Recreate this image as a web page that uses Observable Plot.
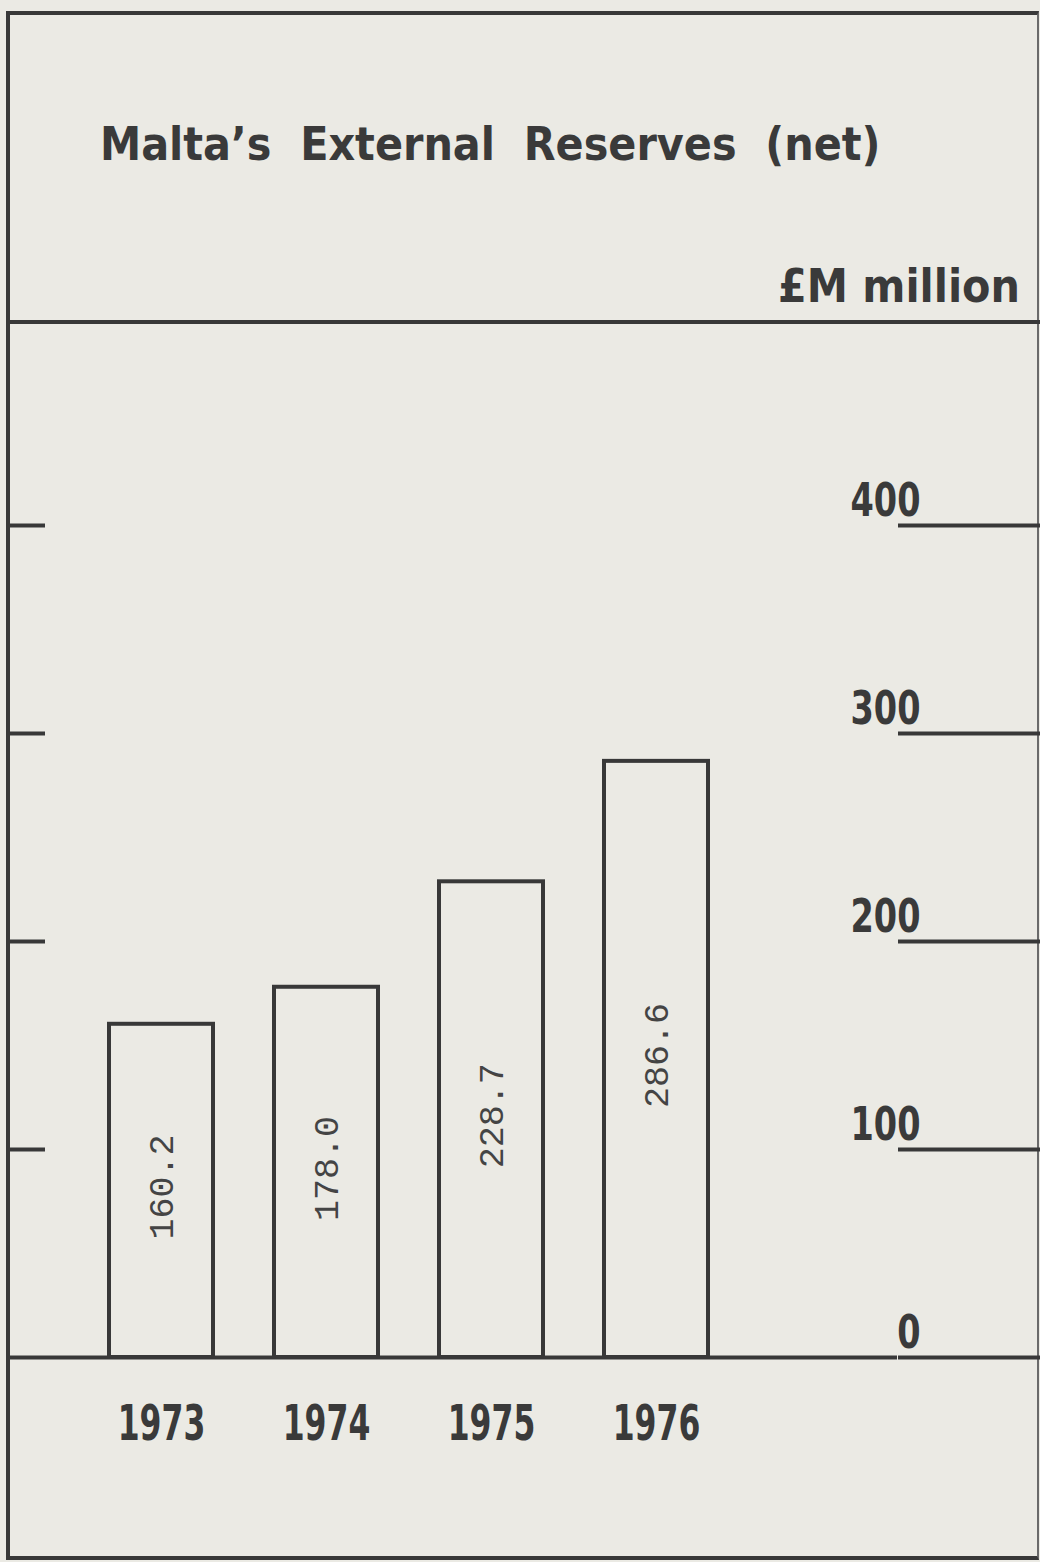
<!DOCTYPE html>
<html>
<head>
<meta charset="utf-8">
<script src="https://cdn.jsdelivr.net/npm/d3@7"></script>
<script src="https://cdn.jsdelivr.net/npm/@observablehq/plot@0.6"></script>
<style>
  html, body { margin: 0; padding: 0; background: #ebeae4; }
  #page { position: relative; width: 1040px; height: 1562px; background: #ebeae4; overflow: hidden; }
  #page svg { position: absolute; left: 0; top: 0; }
  .frame { position: absolute; left: 6px; top: 11px; width: 1033px; height: 1549px; box-sizing: border-box;
           border-left: 4px solid #383838; border-top: 4px solid #383838; border-bottom: 4px solid #383838; border-right: 2px solid #6a6a6a; }
  .hline { position: absolute; left: 6px; top: 320px; width: 1034px; height: 4px; background: #383838; }
  .bold { position: absolute; font-family: "Liberation Sans Narrow", "DejaVu Sans Condensed", "Liberation Sans", sans-serif;
          font-weight: bold; color: #3a3a3a; font-size: 46px; line-height: 46px; white-space: pre; }
  #title { left: 100px; top: 121px; }
  #unit { right: 20px; top: 263px; }
</style>
</head>
<body>
<div id="page">
  <div class="frame"></div>
  <div class="hline"></div>
  <div class="bold" id="title">Malta’s  External  Reserves  (net)</div>
  <div class="bold" id="unit">£M million</div>
</div>
<script>
const years = ["1973", "1974", "1975", "1976"];
const reserves = [160.2, 178.0, 228.7, 286.6];
const yTicks = [0, 100, 200, 300, 400];

const data = years.map((year, i) => ({year, value: reserves[i]}));

const ink = "#383838";
const boldFont = '"Liberation Sans Narrow", "DejaVu Sans Condensed", "Liberation Sans", sans-serif';

const chart = Plot.plot({
  width: 1040,
  height: 1562,
  marginTop: 525,
  marginBottom: 205,
  marginLeft: 45,
  marginRight: 143,
  style: {background: "transparent", color: ink},
  x: {domain: years, paddingInner: 0.3716, paddingOuter: 0.76, align: 0.2545, axis: null},
  y: {domain: [0, 400], axis: null},
  marks: [
    Plot.barY(data, {x: "year", y: "value", fill: "none", stroke: ink, strokeWidth: 4}),
    Plot.text(data, {
      x: "year", y: d => d.value / 2, text: d => d.value.toFixed(1), rotate: -90,
      fontFamily: '"Liberation Mono", "DejaVu Sans Mono", monospace', fontSize: 35, fill: "#444", dy: -4
    }),
    Plot.ruleY([0], {stroke: ink, strokeWidth: 4}),
    Plot.axisY(yTicks, {anchor: "left", tickSize: 37, tickFormat: () => "", label: null, stroke: ink, strokeWidth: 4}),
    Plot.axisY(yTicks, {anchor: "right", tickSize: 143, tickFormat: () => "", label: null, stroke: ink, strokeWidth: 4}),
    Plot.text(yTicks, {
      y: d => d, text: d => String(d), frameAnchor: "right", textAnchor: "end", dx: 23, dy: -24,
      fontFamily: boldFont, fontWeight: "bold", fontSize: 46, fill: "#3a3a3a"
    }),
    Plot.text(data, {
      x: "year", text: "year", frameAnchor: "bottom", dy: 82,
      fontFamily: boldFont, fontWeight: "bold", fontSize: 50, fill: "#3a3a3a"
    })
  ]
});

// condense the bold numerals horizontally, like the original's narrow typeface
const tickStrings = yTicks.map(String);
d3.select(chart).selectAll("text").each(function() {
  const t = this.textContent;
  let s = null;
  if (years.includes(t)) s = "scale(0.7,1)";
  else if (tickStrings.includes(t)) s = "scale(0.81,1)";
  if (!s) return;
  const tr = this.getAttribute("transform");
  if (tr) {
    this.setAttribute("transform", tr + " " + s);
  } else {
    const x = this.getAttribute("x") || 0, y = this.getAttribute("y") || 0;
    this.removeAttribute("x"); this.removeAttribute("y");
    this.setAttribute("transform", `translate(${x},${y}) ${s}`);
  }
});

document.getElementById("page").appendChild(chart);
</script>
</body>
</html>
